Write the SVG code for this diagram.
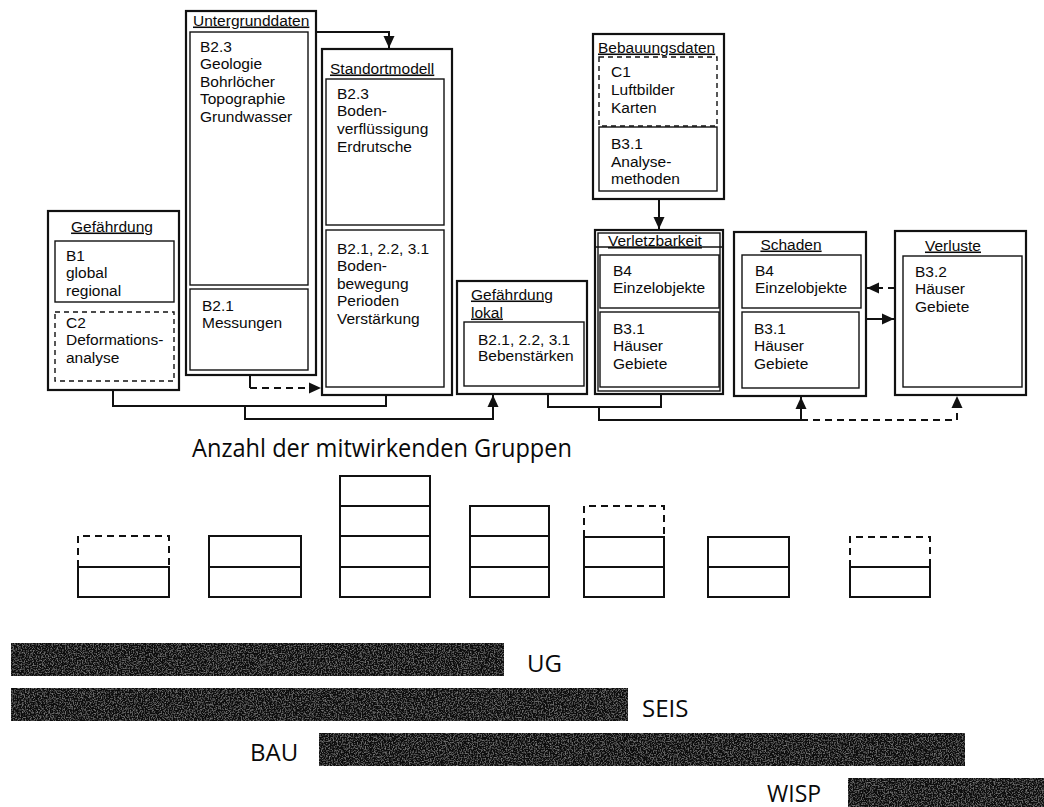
<svg xmlns="http://www.w3.org/2000/svg" width="1044" height="807" viewBox="0 0 1044 807">
<style>
.t{font-family:"Liberation Sans",Arial,sans-serif;font-size:15.5px;fill:#0a0a0a}
.u{text-decoration:underline}
.ob{fill:#fff;stroke:#111;stroke-width:2.2}
.ib{fill:none;stroke:#111;stroke-width:1.4}
.db{fill:none;stroke:#111;stroke-width:1.4;stroke-dasharray:5,4}
.c{fill:none;stroke:#111;stroke-width:2}
.cd{fill:none;stroke:#111;stroke-width:2;stroke-dasharray:7,5}
.g{fill:none;stroke:#111;stroke-width:2}
.gd{fill:none;stroke:#111;stroke-width:2;stroke-dasharray:7,5}
.big{font-family:"Open Sans","Liberation Sans",sans-serif;fill:#0a0a0a}
.bar{fill:#111}
</style>
<defs>
<marker id="ah" markerUnits="userSpaceOnUse" markerWidth="13" markerHeight="13" viewBox="0 0 13 13" refX="12" refY="6.5" orient="auto">
<path d="M0,1 L12,6.5 L0,12 Z" fill="#111"/>
</marker>
<filter id="grain" x="0" y="0" width="1" height="1">
<feTurbulence type="fractalNoise" baseFrequency="0.75" numOctaves="2" seed="4" result="n"/>
<feColorMatrix in="n" type="matrix" values="0 0 0 0 0.42  0 0 0 0 0.42  0 0 0 0 0.42  1.3 0 0 0 -0.62" result="g"/>
<feComposite in="g" in2="SourceGraphic" operator="atop"/>
</filter>
</defs>

<g id="connectors">
<path class="c" d="M316,32 H389 V48" marker-end="url(#ah)"/>
<path class="c" d="M250,376 V388"/>
<path class="cd" d="M250,388 H321" marker-end="url(#ah)"/>
<path class="c" d="M113,390 V406 H386 V395"/>
<path class="c" d="M245,406 V419 H493 V395" marker-end="url(#ah)"/>
<path class="c" d="M548,394 V407 H661 V394"/>
<path class="c" d="M599,407 V420 H801 V397" marker-end="url(#ah)"/>
<path class="cd" d="M801,420 H957 V396" marker-end="url(#ah)"/>
<path class="c" d="M659,199 V229" marker-end="url(#ah)"/>
<path class="cd" d="M895,288 H867" marker-end="url(#ah)"/>
<path class="c" d="M866,319 H894" marker-end="url(#ah)"/>
</g>

<g id="gefaehrdung">
<rect class="ob" x="48" y="211" width="131" height="179"/>
<text class="t u" x="112" y="231.5" text-anchor="middle">Gefährdung</text>
<rect class="ib" x="55" y="241" width="119" height="61"/>
<text class="t" x="66" y="260.5">B1</text>
<text class="t" x="66" y="278">global</text>
<text class="t" x="66" y="295.5">regional</text>
<rect class="db" x="55" y="312" width="119" height="69"/>
<text class="t" x="66" y="327.5">C2</text>
<text class="t" x="66" y="345">Deformations-</text>
<text class="t" x="66" y="362.5">analyse</text>
</g>

<g id="untergrunddaten">
<rect class="ob" x="186" y="11" width="130" height="364"/>
<text class="t u" x="193" y="25.5">Untergrunddaten</text>
<rect class="ib" x="190" y="32" width="118" height="253"/>
<text class="t" x="200" y="51.5">B2.3</text>
<text class="t" x="200" y="69">Geologie</text>
<text class="t" x="200" y="86.5">Bohrlöcher</text>
<text class="t" x="200" y="104">Topographie</text>
<text class="t" x="200" y="121.5">Grundwasser</text>
<rect class="ib" x="190" y="289" width="118" height="81"/>
<text class="t" x="202" y="310.5">B2.1</text>
<text class="t" x="202" y="328">Messungen</text>
</g>

<g id="standortmodell">
<rect class="ob" x="322" y="49" width="130" height="346"/>
<text class="t u" x="330" y="73.5">Standortmodell</text>
<rect class="ib" x="326" y="79" width="118" height="146"/>
<text class="t" x="337" y="98.5">B2.3</text>
<text class="t" x="337" y="116">Boden-</text>
<text class="t" x="337" y="134">verflüssigung</text>
<text class="t" x="337" y="152">Erdrutsche</text>
<rect class="ib" x="326" y="230" width="118" height="157"/>
<text class="t" x="337" y="253.5">B2.1, 2.2, 3.1</text>
<text class="t" x="337" y="271">Boden-</text>
<text class="t" x="337" y="288.5">bewegung</text>
<text class="t" x="337" y="306">Perioden</text>
<text class="t" x="337" y="323.5">Verstärkung</text>
</g>

<g id="gefaehrdung-lokal">
<rect class="ob" x="457" y="281" width="130" height="113"/>
<text class="t u" x="471" y="299.5">Gefährdung</text>
<text class="t u" x="471" y="317.5">lokal</text>
<rect class="ib" x="464" y="322" width="120" height="64"/>
<text class="t" x="478" y="344.5">B2.1, 2.2, 3.1</text>
<text class="t" x="478" y="361">Bebenstärken</text>
</g>

<g id="bebauungsdaten">
<rect class="ob" x="593" y="34" width="131" height="165"/>
<text class="t u" x="598" y="52.5">Bebauungsdaten</text>
<rect class="db" x="599" y="57" width="118" height="69"/>
<text class="t" x="611" y="76.5">C1</text>
<text class="t" x="611" y="94.5">Luftbilder</text>
<text class="t" x="611" y="112.5">Karten</text>
<rect class="ib" x="599" y="127" width="118" height="64"/>
<text class="t" x="611" y="148.5">B3.1</text>
<text class="t" x="611" y="166.5">Analyse-</text>
<text class="t" x="611" y="184">methoden</text>
</g>

<g id="verletzbarkeit">
<rect class="ob" x="595" y="230" width="128" height="164" stroke-width="2.6"/>
<rect class="ib" x="598" y="233" width="122" height="158" stroke-width="1"/>
<text class="t u" x="608" y="246">Verletzbarkeit</text>
<line class="ib" x1="596" y1="247" x2="722" y2="247" stroke-width="2"/>
<rect class="ib" x="600" y="255" width="119" height="53"/>
<text class="t" x="613" y="275.5">B4</text>
<text class="t" x="613" y="293">Einzelobjekte</text>
<rect class="ib" x="600" y="312" width="119" height="75"/>
<text class="t" x="613" y="333.5">B3.1</text>
<text class="t" x="613" y="351">Häuser</text>
<text class="t" x="613" y="368.5">Gebiete</text>
</g>

<g id="schaden">
<rect class="ob" x="734" y="232" width="132" height="164"/>
<text class="t u" x="791" y="249.5" text-anchor="middle">Schaden</text>
<rect class="ib" x="742" y="255" width="119" height="53"/>
<text class="t" x="755" y="275.5">B4</text>
<text class="t" x="755" y="293">Einzelobjekte</text>
<rect class="ib" x="742" y="312" width="117" height="76"/>
<text class="t" x="754" y="333.5">B3.1</text>
<text class="t" x="754" y="351">Häuser</text>
<text class="t" x="754" y="368.5">Gebiete</text>
</g>

<g id="verluste">
<rect class="ob" x="895" y="231" width="131" height="164"/>
<text class="t u" x="953" y="250.5" text-anchor="middle">Verluste</text>
<rect class="ib" x="903" y="256" width="119" height="131"/>
<text class="t" x="915" y="276.5">B3.2</text>
<text class="t" x="915" y="294">Häuser</text>
<text class="t" x="915" y="311.5">Gebiete</text>
</g>

<g id="anzahl">
<text class="big" x="192" y="457" font-size="26" textLength="380" lengthAdjust="spacingAndGlyphs">Anzahl der mitwirkenden Gruppen</text>
</g>

<g id="stack1">
<path class="gd" d="M78,567 V536 H169 V567"/>
<rect class="g" x="78" y="567" width="91" height="30"/>
</g>
<g id="stack2">
<rect class="g" x="209" y="536" width="92" height="61"/>
<line class="g" x1="209" y1="567" x2="301" y2="567"/>
</g>
<g id="stack3">
<rect class="g" x="340" y="476" width="90" height="121"/>
<line class="g" x1="340" y1="506" x2="430" y2="506"/>
<line class="g" x1="340" y1="536" x2="430" y2="536"/>
<line class="g" x1="340" y1="567" x2="430" y2="567"/>
</g>
<g id="stack4">
<rect class="g" x="470" y="506" width="79" height="91"/>
<line class="g" x1="470" y1="536" x2="549" y2="536"/>
<line class="g" x1="470" y1="567" x2="549" y2="567"/>
</g>
<g id="stack5">
<path class="gd" d="M584,537 V506 H664 V537"/>
<rect class="g" x="584" y="537" width="80" height="60"/>
<line class="g" x1="584" y1="567" x2="664" y2="567"/>
</g>
<g id="stack6">
<rect class="g" x="708" y="537" width="81" height="60"/>
<line class="g" x1="708" y1="567" x2="789" y2="567"/>
</g>
<g id="stack7">
<path class="gd" d="M850,567 V537 H930 V567"/>
<rect class="g" x="850" y="567" width="80" height="30"/>
</g>

<g id="bar-ug">
<rect class="bar" x="11" y="643" width="493" height="33" filter="url(#grain)"/>
<text class="big" x="527" y="672" font-size="24">UG</text>
</g>
<g id="bar-seis">
<rect class="bar" x="11" y="688" width="617" height="33" filter="url(#grain)"/>
<text class="big" x="642" y="717" font-size="24">SEIS</text>
</g>
<g id="bar-bau">
<rect class="bar" x="319" y="733" width="646" height="33" filter="url(#grain)"/>
<text class="big" x="250" y="761" font-size="24">BAU</text>
</g>
<g id="bar-wisp">
<rect class="bar" x="848" y="778" width="196" height="29" filter="url(#grain)"/>
<text class="big" x="767" y="802" font-size="23">WISP</text>
</g>
</svg>
